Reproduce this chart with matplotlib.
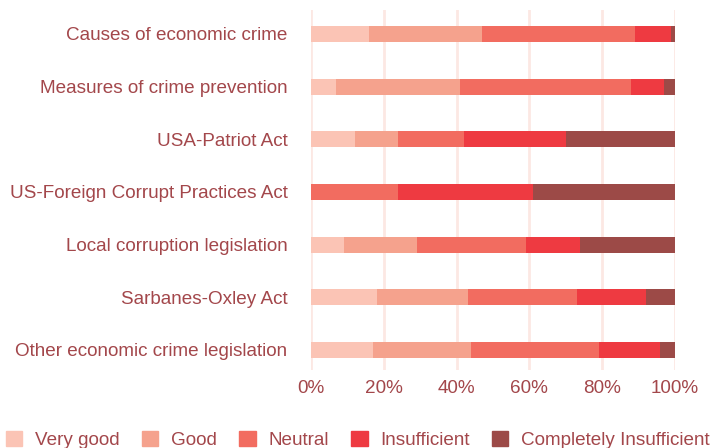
import matplotlib.pyplot as plt
from matplotlib.patches import Patch
from matplotlib.ticker import PercentFormatter

plt.rcParams["font.family"] = ["Liberation Sans", "DejaVu Sans"]

categories = [
    "Causes of economic crime",
    "Measures of crime prevention",
    "USA-Patriot Act",
    "US-Foreign Corrupt Practices Act",
    "Local corruption legislation",
    "Sarbanes-Oxley Act",
    "Other economic crime legislation",
]
series_names = ["Very good", "Good", "Neutral", "Insufficient", "Completely Insufficient"]
very_good = [16, 7, 12, 0, 9, 18, 17]
good = [31, 34, 12, 0, 20, 25, 27]
neutral = [42, 47, 18, 24, 30, 30, 35]
insufficient = [10, 9, 28, 37, 15, 19, 17]
completely = [1, 3, 30, 39, 26, 8, 4]
x_ticks = [0, 20, 40, 60, 80, 100]

colors = ["#fbc4b5", "#f5a28d", "#f26c60", "#ee3a41", "#9c4a47"]
text_color = "#a3474b"
grid_color = "#fce8e3"

fig = plt.figure(figsize=(7.12, 4.48), dpi=100)
ax = fig.add_axes([311 / 712, 1 - 370 / 448, 364 / 712, 360 / 448])

series = [very_good, good, neutral, insufficient, completely]
ypos = list(range(len(categories)))
left = [0] * len(categories)
for name, vals, col in zip(series_names, series, colors):
    ax.barh(ypos, vals, left=left, height=0.3, color=col, label=name, zorder=2)
    left = [a + b for a, b in zip(left, vals)]

ax.set_xlim(0, 100)
ax.set_ylim(6.38, -0.455)
ax.set_yticks(ypos)
ax.set_yticklabels(categories)
ax.set_xticks(x_ticks)
ax.xaxis.set_major_formatter(PercentFormatter(decimals=0))
ax.tick_params(axis="both", length=0, labelsize=13.6, labelcolor=text_color)
ax.tick_params(axis="y", pad=17)
ax.tick_params(axis="x", pad=7)
ax.grid(axis="x", color=grid_color, linewidth=2, zorder=0)
for s in ax.spines.values():
    s.set_visible(False)

# legend runs past the right edge, as in the original
handles = [Patch(color=c) for c in colors]
fig.legend(handles, series_names, loc="center left", bbox_to_anchor=(6 / 712, 1 - 440 / 448),
           ncol=5, frameon=False, fontsize=13.6, labelcolor=text_color,
           borderpad=0, borderaxespad=0,
           handlelength=0.87, handleheight=0.87, handletextpad=0.69, columnspacing=1.16)

fig.savefig("out.png", dpi=100)
